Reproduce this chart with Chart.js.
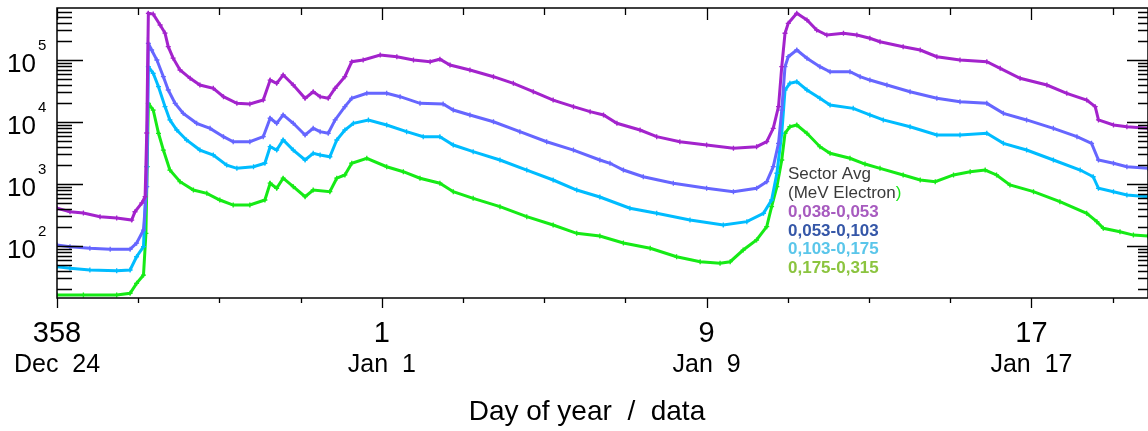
<!DOCTYPE html>
<html>
<head>
<meta charset="utf-8">
<script src="https://cdn.jsdelivr.net/npm/chart.js@4/dist/chart.umd.min.js"></script>
<style>
  html, body { margin: 0; padding: 0; background: #fff; }
  #wrap { width: 1148px; height: 431px; }
</style>
</head>
<body>
<div id="wrap"><canvas id="myChart" width="1148" height="431"></canvas></div>
<script>
// day of year, continuous (366 = Jan 1)
const tickDays = [358, 366, 374, 382];
const tickNums = ["358", "1", "9", "17"];
const tickDates = ["Dec  24", "Jan  1", "Jan  9", "Jan  17"];
const yTickExps = [2, 3, 4, 5];

const seriesLabels = ["0,038-0,053", "0,053-0,103", "0,103-0,175", "0,175-0,315"];
const lineColors = ["#a323cc", "#6666ff", "#00bcff", "#16ea16"];
const labelColors = ["#a75bbf", "#3557a8", "#5ac6ea", "#8bc43f"];
const legendTitle = ["Sector Avg", "(MeV Electron"];

const ch1Day = [358.0, 358.32, 358.65, 359.06, 359.47, 359.84, 359.92, 360.09, 360.17, 360.21, 360.25, 360.37,
  360.54, 360.66, 360.74, 360.86, 361.03, 361.28, 361.52, 361.85, 362.10, 362.43, 362.75, 363.08, 363.25,
  363.41, 363.57, 363.82, 364.11, 364.31, 364.48, 364.68, 364.85, 365.09, 365.26, 365.54, 365.96, 366.37,
  366.78, 367.19, 367.43, 367.68, 368.17, 368.75, 369.24, 369.73, 370.22, 370.72, 371.13, 371.46, 371.79,
  372.36, 372.77, 373.34, 374.00, 374.66, 375.23, 375.48, 375.64, 375.77, 375.85, 375.93, 376.01, 376.22,
  376.47, 376.71, 376.96, 377.37, 377.70, 378.02, 378.27, 378.84, 379.26, 379.67, 380.24, 380.90, 381.23,
  381.72, 382.38, 382.87, 383.36, 383.57, 383.65, 384.02, 384.35, 384.87];
const ch1Flux = [406, 357, 340, 297, 283, 262, 357, 494, 624, 6650, 566000, 550000,
  367000, 272000, 164000, 107000, 69000, 50700, 39500, 35000, 25600, 20000, 19500, 22600, 47500,
  42000, 57300, 39500, 24100, 30800, 25600, 24100, 35000, 53800, 94000, 100000, 120000, 113000,
  100000, 94000, 103000, 83000, 69000, 53800, 42000, 30800, 22600, 17700, 14700, 13000, 9530,
  7430, 5800, 4810, 4250, 3760, 4000, 4810, 7900, 17700, 78000, 270000, 391000, 566000,
  442000, 305000, 253000, 270000, 253000, 224000, 197000, 164000, 145000, 113000, 100000, 94000, 73500,
  50700, 39500, 29000, 22600, 17700, 10800, 8950, 8400, 7900];

const ch2Day = [358.0, 358.32, 358.81, 359.31, 359.80, 359.96, 360.13, 360.21, 360.25, 360.33, 360.46, 360.62,
  360.74, 360.91, 361.11, 361.44, 361.77, 362.10, 362.34, 362.75, 363.08, 363.25, 363.41, 363.57, 363.82,
  364.11, 364.31, 364.48, 364.68, 364.85, 365.09, 365.26, 365.63, 366.12, 366.45, 366.94, 367.51, 367.76,
  368.17, 368.75, 369.40, 370.06, 370.72, 371.37, 371.62, 371.95, 372.44, 373.18, 374.00, 374.66, 375.23,
  375.48, 375.64, 375.77, 375.85, 375.93, 376.01, 376.22, 376.47, 376.79, 377.04, 377.53, 377.78, 378.02,
  378.44, 379.01, 379.67, 380.24, 380.90, 381.31, 381.88, 382.54, 383.12, 383.48, 383.65, 384.02, 384.35,
  384.87];
const ch2Flux = [104, 97.5, 91.9, 88.5, 88.5, 111, 181, 904, 186000, 145000, 100000, 53800,
  32800, 20000, 13800, 9530, 7900, 5800, 4810, 4810, 5800, 11500, 9530, 13000, 9530,
  6170, 7900, 6980, 6580, 10800, 17700, 24100, 29000, 29000, 25600, 20000, 19500, 15600,
  13000, 10100, 6980, 4810, 3530, 2440, 2160, 1680, 1310, 1030, 853, 752, 853,
  1090, 1900, 4530, 15600, 78000, 113000, 145000, 107000, 78000, 64700, 64700, 53800, 47500,
  39500, 30800, 24100, 21200, 20000, 13800, 10800, 7900, 5800, 4530, 2440, 2160, 1900,
  1790];

const ch3Day = [358.0, 358.32, 358.81, 359.47, 359.80, 359.96, 360.13, 360.21, 360.25, 360.37, 360.50, 360.66,
  360.78, 360.95, 361.19, 361.52, 361.85, 362.18, 362.43, 362.84, 363.12, 363.25, 363.41, 363.57, 363.82,
  364.11, 364.31, 364.48, 364.72, 364.89, 365.09, 365.30, 365.67, 366.12, 366.61, 367.02, 367.43, 367.76,
  368.25, 368.91, 369.57, 370.22, 370.80, 371.37, 372.11, 372.77, 373.59, 374.41, 374.99, 375.40, 375.60,
  375.73, 375.85, 375.93, 376.05, 376.22, 376.47, 376.79, 377.04, 377.61, 378.02, 378.35, 379.01, 379.67,
  380.24, 380.90, 381.31, 381.88, 382.54, 383.20, 383.52, 383.65, 384.02, 384.35, 384.87];
const ch3Flux = [46.3, 43.6, 41.0, 40.0, 41.0, 67.1, 97.5, 1900, 78000, 61000, 37100, 17700,
  10800, 7430, 5130, 3530, 2940, 2020, 1790, 1900, 2160, 4000, 3530, 5130, 3530,
  2440, 3130, 2940, 2750, 5130, 7430, 9530, 10800, 8950, 6980, 5800, 5800, 4250,
  3320, 2440, 1680, 1160, 800, 617, 406, 337, 262, 218, 247, 337, 552,
  1490, 6580, 32800, 42000, 44700, 32800, 24100, 18800, 16600, 13000, 10800, 8400, 6170,
  6170, 6580, 4530, 3530, 2440, 1680, 1310, 853, 752, 665, 624];

const ch4Day = [358.0, 358.65, 359.47, 359.80, 359.96, 360.13, 360.19, 360.22, 360.25, 360.37, 360.50, 360.62,
  360.78, 361.03, 361.36, 361.69, 362.01, 362.34, 362.75, 363.12, 363.25, 363.41, 363.57, 363.82, 364.11,
  364.31, 364.72, 364.89, 365.09, 365.26, 365.63, 366.12, 366.53, 366.94, 367.43, 367.76, 368.25, 368.91,
  369.57, 370.22, 370.80, 371.37, 371.95, 372.61, 373.26, 373.84, 374.33, 374.58, 374.90, 375.23, 375.48,
  375.60, 375.73, 375.85, 375.93, 376.05, 376.22, 376.47, 376.79, 377.04, 377.53, 377.90, 378.27, 378.84,
  379.26, 379.63, 380.08, 380.49, 380.86, 381.14, 381.47, 382.05, 382.70, 383.36, 383.61, 383.77, 384.18,
  384.51, 384.87];
const ch4Flux = [16.2, 16.2, 16.2, 17.3, 25.0, 34.0, 160, 1900, 20000, 15600, 6580, 3530,
  1680, 1090, 800, 708, 552, 458, 458, 552, 1030, 853, 1240, 904, 624,
  800, 752, 1240, 1400, 2160, 2600, 1900, 1580, 1240, 1030, 752, 588, 431,
  297, 218, 160, 145, 112, 91.9, 67.1, 55.8, 52.6, 55.8, 86.1, 125, 205,
  431, 904, 2440, 6580, 8400, 8950, 6580, 4000, 3130, 2600, 2100, 1790, 1400,
  1160, 1090, 1400, 1580, 1680, 1400, 964, 752, 519, 337, 247, 193, 170,
  150, 145];

const allDays = [ch1Day, ch2Day, ch3Day, ch4Day];
const allFlux = [ch1Flux, ch2Flux, ch3Flux, ch4Flux];

const FONT = '"Liberation Sans", Arial, sans-serif';

// frame, inward/outward tick marks, y labels with superscripts, legend text
const decorations = {
  id: "decorations",
  afterDraw(chart) {
    const { ctx, chartArea: a } = chart;
    const x = chart.scales.x;
    const y = chart.scales.y;
    ctx.save();
    ctx.strokeStyle = "#000";
    ctx.lineWidth = 1.5;
    ctx.strokeRect(a.left, a.top, a.right - a.left, a.bottom - a.top);

    ctx.lineWidth = 1.3;
    ctx.beginPath();
    for (let e = 1; e <= 5; e++) {
      for (let m = 1; m <= 9; m++) {
        const v = m * Math.pow(10, e);
        if (v < y.min || v > y.max) continue;
        const py = Math.round(y.getPixelForValue(v)) + 0.5;
        ctx.moveTo(a.left, py);
        ctx.lineTo(a.left + (m === 1 ? 26 : 15), py);
        ctx.moveTo(a.right, py);
        ctx.lineTo(a.right - (m === 1 ? 21 : 10), py);
      }
    }
    for (let d = tickDays[0]; d <= x.max; d += 2) {
      const px = Math.round(x.getPixelForValue(d)) + 0.5;
      const major = tickDays.includes(d);
      ctx.moveTo(px, a.bottom);
      ctx.lineTo(px, a.bottom + (major ? 10 : 5));
      ctx.moveTo(px, a.top);
      ctx.lineTo(px, a.top + (major ? 12 : 7));
    }
    ctx.stroke();

    ctx.fillStyle = "#000";
    ctx.textBaseline = "alphabetic";
    yTickExps.forEach((e) => {
      const py = y.getPixelForValue(Math.pow(10, e));
      ctx.font = "26px " + FONT;
      ctx.textAlign = "right";
      ctx.fillText("10", 36, py + 12);
      ctx.font = "15px " + FONT;
      ctx.textAlign = "left";
      ctx.fillText(String(e), 38, py - 10);
    });

    // legend
    const lx = 788;
    ctx.textAlign = "left";
    ctx.font = "17px " + FONT;
    ctx.fillStyle = "#3a3a3a";
    ctx.fillText(legendTitle[0], lx, 179);
    ctx.fillText(legendTitle[1], lx, 198);
    const w = ctx.measureText(legendTitle[1]).width;
    ctx.fillStyle = lineColors[3];
    ctx.fillText(")", lx + w, 198);
    ctx.font = "bold 17px " + FONT;
    seriesLabels.forEach((t, i) => {
      ctx.fillStyle = labelColors[i];
      ctx.fillText(t, lx, 217 + i * 18.7);
    });
    ctx.restore();
  },
};

const chartIt = () => {
  const ctx = document.getElementById("myChart").getContext("2d");
  const datasets = seriesLabels.map((label, i) => ({
    label: label,
    data: allDays[i].map((d, j) => ({ x: d, y: allFlux[i][j] })),
    borderColor: lineColors[i],
    backgroundColor: lineColors[i],
    borderWidth: 3,
    pointStyle: "cross",
    pointRadius: 2.5,
    pointBorderWidth: 1.3,
    tension: 0,
    fill: false,
  }));

  new Chart(ctx, {
    type: "line",
    data: { datasets },
    options: {
      responsive: false,
      animation: false,
      devicePixelRatio: 1,
      layout: { autoPadding: false, padding: { left: 57, top: 8, right: 0, bottom: 0 } },
      plugins: {
        legend: { display: false },
        tooltip: { enabled: false },
      },
      scales: {
        x: {
          type: "linear",
          position: "bottom",
          min: 358,
          max: 384.87,
          weight: 0,
          grid: { display: false, drawTicks: false },
          border: { display: false },
          afterBuildTicks: (s) => { s.ticks = tickDays.map((v) => ({ value: v })); },
          afterFit: (s) => { s.height = 50; },
          ticks: {
            padding: 21,
            maxRotation: 0,
            autoSkip: false,
            color: "#000",
            font: { family: FONT, size: 29, lineHeight: 1 },
            callback: (v) => tickNums[tickDays.indexOf(v)],
          },
        },
        x2: {
          type: "linear",
          position: "bottom",
          axis: "x",
          min: 358,
          max: 384.87,
          weight: 1,
          grid: { display: false, drawTicks: false },
          border: { display: false },
          afterBuildTicks: (s) => { s.ticks = tickDays.map((v) => ({ value: v })); },
          afterFit: (s) => { s.height = 83; },
          ticks: {
            padding: 5,
            maxRotation: 0,
            autoSkip: false,
            color: "#000",
            font: { family: FONT, size: 25, lineHeight: 1 },
            callback: (v) => tickDates[tickDays.indexOf(v)],
          },
          title: {
            display: true,
            text: "Day of year  /  data    ",
            color: "#000",
            font: { family: FONT, size: 28, lineHeight: 1 },
            padding: { top: 0, bottom: 5 },
          },
        },
        y: {
          type: "logarithmic",
          display: false,
          min: 14.5,
          max: 690000,
        },
      },
    },
    plugins: [decorations],
  });
};

chartIt();
</script>
</body>
</html>
